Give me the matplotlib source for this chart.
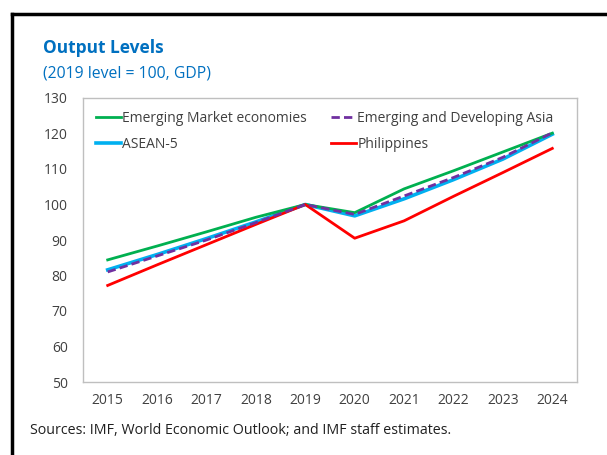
import matplotlib
matplotlib.use("Agg")
from matplotlib import pyplot as plt
from matplotlib.lines import Line2D

plt.rcParams['font.family'] = ['Open Sans', 'DejaVu Sans']

years = ['2015', '2016', '2017', '2018', '2019', '2020', '2021', '2022', '2023', '2024']
emerging_market = [84.4, 88.3, 92.3, 96.4, 100.0, 97.7, 104.4, 109.5, 114.8, 120.1]
emerging_asia = [81.0, 85.5, 90.0, 94.9, 100.0, 97.2, 102.4, 107.6, 113.3, 120.2]
asean5 = [81.6, 85.9, 90.4, 95.1, 100.0, 96.8, 101.6, 107.0, 112.8, 119.8]
philippines = [77.2, 83.0, 88.7, 94.4, 100.0, 90.5, 95.4, 102.3, 109.0, 115.8]

fig = plt.figure(figsize=(6.07, 4.55), dpi=100)
ax = fig.add_axes([83/607, 1-382/455, (577-83)/607, (382-98)/455])

x = range(len(years))
ax.plot(x, asean5, color='#00B0F0', lw=2.6, label='ASEAN-5', zorder=2)
ax.plot(x, emerging_market, color='#00B050', lw=2, label='Emerging Market economies', zorder=3)
ax.plot(x, philippines, color='#FF0000', lw=2, label='Philippines', zorder=3)
ax.plot(x, emerging_asia, color='#7030A0', lw=2, ls=(0, (3, 1.5)),
        label='Emerging and Developing Asia', zorder=4)

ax.set_xlim(-0.5, len(years) - 0.5)
ax.set_ylim(50, 130)
ax.set_yticks(range(50, 131, 10))
ax.set_xticks(list(x))
ax.set_xticklabels(years)
ax.tick_params(length=0, labelsize=10, colors='#404040', pad=8)
ax.tick_params(axis='y', pad=11)
for s in ax.spines.values():
    s.set_color('#BFBFBF')
    s.set_linewidth(1)

# legend filled column by column: EM, ASEAN-5 | EDA, Philippines
h, l = ax.get_legend_handles_labels()
order = [1, 0, 3, 2]
ax.legend([h[i] for i in order], [l[i] for i in order], ncol=2, frameon=False,
          loc='upper left', bbox_to_anchor=(0.0, 1.0), fontsize=10,
          handlelength=1.8, handletextpad=0.1, columnspacing=1.75,
          labelspacing=0.85, labelcolor='#404040')

fig.text(43/607, 1-48/455, 'Output Levels', fontsize=12.5, fontweight='bold',
         color='#0070C0', va='center')
fig.text(43/607, 1-73/455, '(2019 level = 100, GDP)', fontsize=11.3,
         color='#0070C0', va='center')
fig.text(30/607, 1-430/455, 'Sources: IMF, World Economic Outlook; and IMF staff estimates.',
         fontsize=10.25, color='#202020', va='center')

fig.add_artist(Line2D([12/607, 1], [1-14/455, 1-14/455], color='black', lw=2.5))
fig.add_artist(Line2D([12/607, 12/607], [0, 1-14/455], color='black', lw=2.5))

fig.savefig('out.png', dpi=100)
